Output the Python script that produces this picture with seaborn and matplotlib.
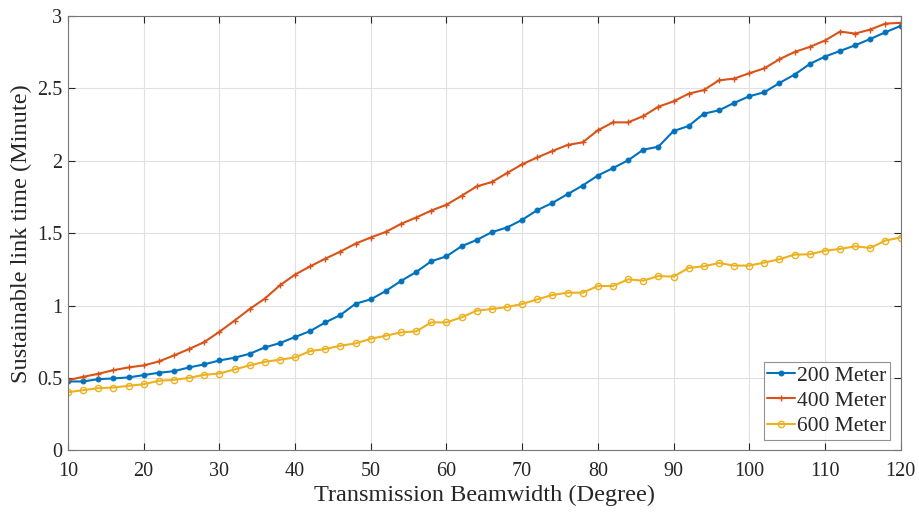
import numpy as np
import pandas as pd
import matplotlib
matplotlib.use("Agg")
import matplotlib.pyplot as plt
import seaborn as sns

beamwidth = list(range(10, 121, 2))

meter_200 = [0.476, 0.476, 0.492, 0.497, 0.504, 0.520, 0.536, 0.547, 0.573, 0.594,
             0.621, 0.640, 0.667, 0.711, 0.741, 0.783, 0.824, 0.884, 0.935, 1.013,
             1.043, 1.101, 1.170, 1.232, 1.306, 1.340, 1.410, 1.453, 1.507, 1.539,
             1.592, 1.659, 1.709, 1.769, 1.829, 1.898, 1.949, 2.003, 2.076, 2.097,
             2.205, 2.240, 2.325, 2.348, 2.399, 2.445, 2.473, 2.537, 2.595, 2.668,
             2.719, 2.758, 2.797, 2.841, 2.887, 2.931]

meter_400 = [0.485, 0.508, 0.529, 0.554, 0.573, 0.587, 0.614, 0.656, 0.700, 0.748,
             0.819, 0.896, 0.976, 1.048, 1.140, 1.214, 1.271, 1.324, 1.373, 1.428,
             1.470, 1.509, 1.564, 1.608, 1.656, 1.696, 1.758, 1.823, 1.853, 1.915,
             1.975, 2.023, 2.067, 2.109, 2.127, 2.210, 2.265, 2.265, 2.308, 2.373,
             2.410, 2.463, 2.488, 2.555, 2.567, 2.604, 2.638, 2.701, 2.751, 2.786,
             2.830, 2.892, 2.878, 2.906, 2.947, 2.952]

meter_600 = [0.402, 0.416, 0.430, 0.434, 0.446, 0.457, 0.481, 0.487, 0.501, 0.522,
             0.531, 0.559, 0.587, 0.612, 0.626, 0.642, 0.686, 0.700, 0.723, 0.739,
             0.771, 0.792, 0.815, 0.822, 0.884, 0.884, 0.919, 0.965, 0.976, 0.990,
             1.011, 1.043, 1.073, 1.089, 1.089, 1.135, 1.135, 1.181, 1.172, 1.204,
             1.200, 1.260, 1.271, 1.294, 1.276, 1.276, 1.297, 1.320, 1.352, 1.354,
             1.379, 1.391, 1.409, 1.398, 1.449, 1.470]

series_names = ["200 Meter", "400 Meter", "600 Meter"]
colors = ["#0072BD", "#D95319", "#EDB120"]

sns.set_theme(style="white")
plt.rcParams['font.family'] = ['Liberation Serif', 'DejaVu Serif']

fig = plt.figure(figsize=(9.2, 5.13), dpi=100)
ax = fig.add_axes([0.0739, 0.122, 0.905, 0.847])

styles = [
    dict(marker="o", markersize=3.5, markerfacecolor=colors[0], markeredgecolor=colors[0]),
    dict(marker="+", markersize=5, markeredgewidth=1.0, markeredgecolor=colors[1]),
    dict(marker="o", markersize=4.5, markerfacecolor="none", markeredgecolor=colors[2], markeredgewidth=1.0),
]
for name, vals, col, st in zip(series_names, [meter_200, meter_400, meter_600], colors, styles):
    df = pd.DataFrame({"Beamwidth": beamwidth, "Time": vals})
    sns.lineplot(data=df, x="Beamwidth", y="Time", ax=ax, color=col, linewidth=1.5,
                 label=name, **st)

ax.set_xlim(10, 120)
ax.set_ylim(0, 3)
ax.set_xticks(range(10, 121, 10))
ax.set_yticks([0, 0.5, 1, 1.5, 2, 2.5, 3])
ax.set_yticklabels(["0", "0.5", "1", "1.5", "2", "2.5", "3"])
ax.grid(True, color="#e0e0e0", linewidth=0.8)
ax.tick_params(direction="in", length=5, width=0.8, colors="#262626", labelsize=14.5,
               top=True, right=True, bottom=True, left=True)
ax.tick_params(axis="x", pad=8)
ax.tick_params(axis="y", pad=4)
for s in ax.spines.values():
    s.set_color("#777777")
    s.set_linewidth(0.8)

ax.set_xlabel("Transmission Beamwidth (Degree)", fontsize=17.5, color="#262626", labelpad=3)
ax.set_ylabel("Sustainable link time (Minute)", fontsize=17.5, color="#262626", labelpad=4)

leg = ax.legend(loc="lower right", fontsize=15.5, frameon=True, fancybox=False,
                handlelength=1.3, handletextpad=0.1, borderpad=0.15, labelspacing=0.25,
                borderaxespad=0.5)
leg.get_frame().set_edgecolor("#777777")
leg.get_frame().set_linewidth(0.8)

fig.savefig("out.png", dpi=100)
